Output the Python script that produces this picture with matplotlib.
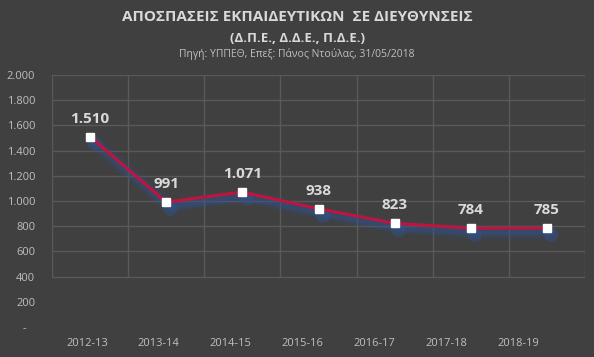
import matplotlib
matplotlib.use('Agg')
import matplotlib.pyplot as plt
import matplotlib.patheffects as pe
import numpy as np

# Δεδομένα
years = ['2012-13', '2013-14', '2014-15', '2015-16', '2016-17', '2017-18', '2018-19']
values = [1510, 991, 1071, 938, 823, 784, 785]
yticks = list(range(0, 2001, 200))

plt.rcParams['font.family'] = ['Open Sans', 'DejaVu Sans']

bg = '#404040'
grid_c = '#595959'
txt = '#d9d9d9'
tick_c = '#bfbfbf'
glow_c = '#2f5597'

fig = plt.figure(figsize=(5.94, 3.57), dpi=100, facecolor=bg)

# κύριοι άξονες (περιοχή γραφήματος)
ax = fig.add_axes([52 / 594, 30 / 357, 533 / 594, 252 / 357])
ax.set_facecolor(bg)
ax.set_xlim(-0.5, len(years) - 0.5)
ax.set_ylim(0, 2000)
for s in ax.spines.values():
    s.set_visible(False)

# πλέγμα
ax.set_yticks(yticks)
ax.set_yticklabels([f'{v:,}'.replace(',', '.') if v else '-   ' for v in yticks],
                   color=tick_c, fontsize=8)
ax.tick_params(axis='y', length=0, pad=12)
ax.yaxis.grid(True, color=grid_c, linewidth=1)
for i, gl in enumerate(ax.yaxis.get_gridlines()):
    if yticks[i] < 400:
        gl.set_visible(False)
ax.vlines(np.arange(-0.5, len(years)), 400, 2000, color=grid_c, linewidth=1)
ax.set_xticks([])
ax.set_axisbelow(True)

x = np.arange(len(years))

# σκιά / λάμψη
glow = [pe.Stroke(offset=(2, -3), linewidth=w, foreground=glow_c, alpha=a)
        for w, a in [(10, 0.12), (7, 0.2), (4, 0.3)]]
ax.plot(x, values, color='#c0143c', linewidth=2.2, solid_capstyle='round',
        path_effects=glow + [pe.Normal()], zorder=3)
ax.plot(x, values, linestyle='none', marker='o', markersize=10,
        markerfacecolor=glow_c, markeredgewidth=0, alpha=0.4, zorder=2,
        path_effects=[pe.Stroke(offset=(3, -5), linewidth=0)])
ax.plot(x, values, linestyle='none', marker='s', markersize=5.5,
        markerfacecolor='white', markeredgecolor='white', zorder=4)

for xi, v in zip(x, values):
    ax.annotate(f'{v:,}'.replace(',', '.'), (xi, v), xytext=(0, 13),
                textcoords='offset points', ha='center', va='center',
                fontsize=11, fontweight='bold', color=txt, zorder=5)

# άξονας κατηγοριών (μετατοπισμένος όπως στο πρωτότυπο)
ax2 = fig.add_axes([51 / 594, 30 / 357, 503 / 594, 252 / 357], zorder=-1)
ax2.patch.set_visible(False)
for s in ax2.spines.values():
    s.set_visible(False)
ax2.set_xlim(-0.5, len(years) - 0.5)
ax2.set_xticks(range(len(years)))
ax2.set_xticklabels(years, color=tick_c, fontsize=8)
ax2.tick_params(axis='x', length=0, pad=8)
ax2.set_yticks([])

# τίτλοι
fig.text(0.5, 1 - 17 / 357, 'ΑΠΟΣΠΑΣΕΙΣ ΕΚΠΑΙΔΕΥΤΙΚΩΝ  ΣΕ ΔΙΕΥΘΥΝΣΕΙΣ',
         ha='center', va='center', fontsize=11, fontweight='bold', color=txt)
fig.text(0.5, 1 - 39 / 357, '(Δ.Π.Ε., Δ.Δ.Ε., Π.Δ.Ε.)',
         ha='center', va='center', fontsize=9.5, fontweight='bold', color=txt)
fig.text(0.5, 1 - 54 / 357, 'Πηγή: ΥΠΠΕΘ, Επεξ: Πάνος Ντούλας, 31/05/2018',
         ha='center', va='center', fontsize=7.5, color=tick_c)

fig.savefig('out.png', dpi=100, facecolor=bg)
